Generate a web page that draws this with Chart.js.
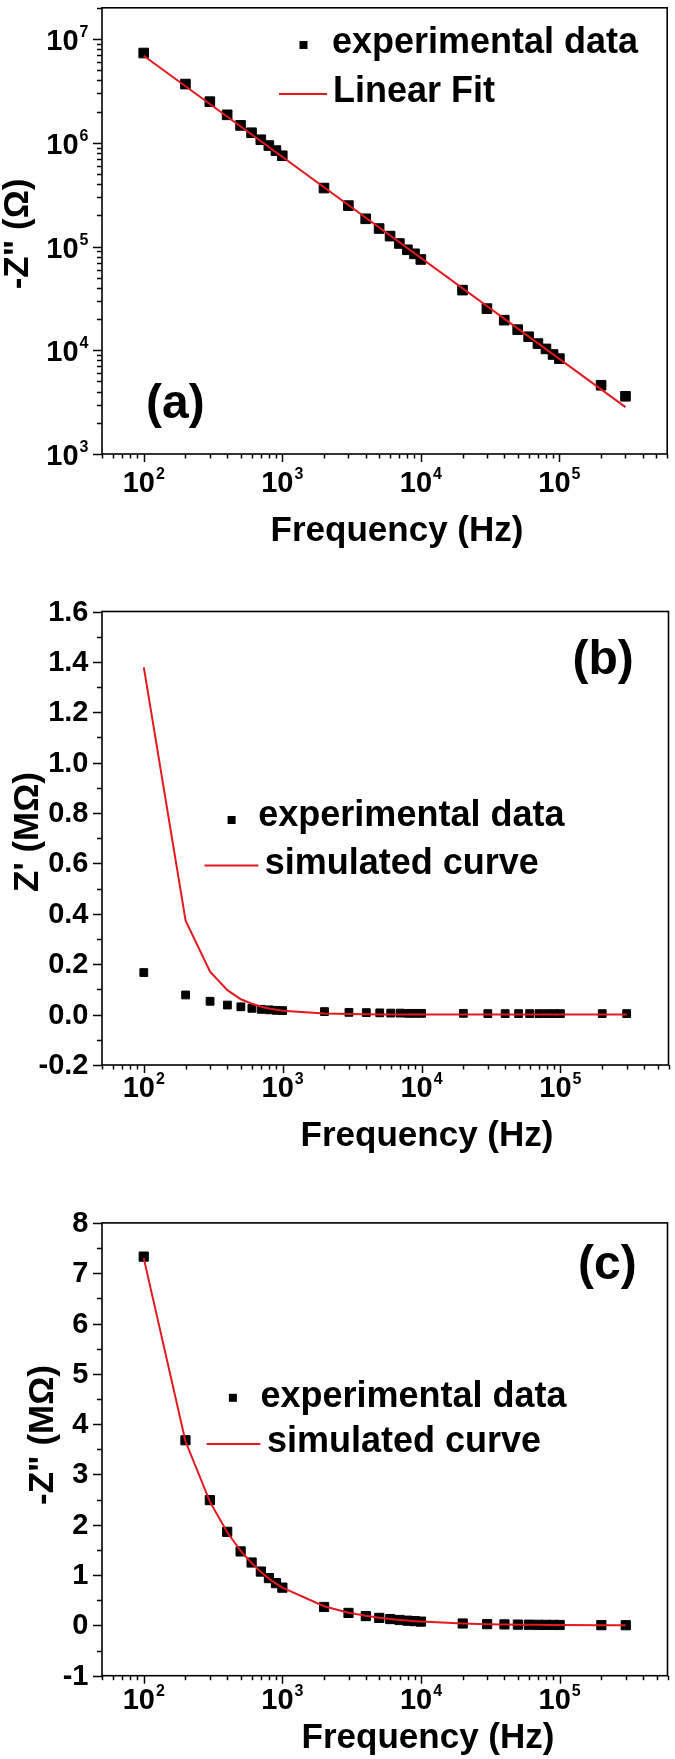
<!DOCTYPE html>
<html><head><meta charset="utf-8">
<script src="https://cdn.jsdelivr.net/npm/chart.js@4.4.0/dist/chart.umd.min.js"></script>
<style>
html,body{margin:0;padding:0;background:#fff;}
body{width:675px;height:1759px;position:relative;overflow:hidden;}
canvas{position:absolute;left:0;}
</style></head><body>
<canvas id="ca" width="675" height="560" style="top:0px"></canvas>
<canvas id="cb" width="675" height="600" style="top:560px"></canvas>
<canvas id="cc" width="675" height="599" style="top:1160px"></canvas>
<script>
// ---------------- data ----------------
const freq = [100,200,300,400,500,600,700,800,900,1000,2000,3000,4000,5000,6000,7000,8000,9000,10000,20000,30000,40000,50000,60000,70000,80000,90000,100000,200000,300000];
// (a) -Z'' in ohm, log-log
const zImagOhm = [7.33e6,3.68e6,2.49e6,1.86e6,1.47e6,1.25e6,1.07e6,9.4e5,8.4e5,7.5e5,3.66e5,2.48e5,1.85e5,1.49e5,1.26e5,1.07e5,9.3e4,8.5e4,7.5e4,3.8e4,2.52e4,1.95e4,1.58e4,1.35e4,1.16e4,1.03e4,9.1e3,8.3e3,4.6e3,3.6e3];
const fitFreq = [100, 300000];
const fitOhm = [6.9e6, 2.83e3];
// (b) Z' in Mohm
const zRealMOhm = [0.167,0.078,0.053,0.038,0.031,0.025,0.021,0.019,0.017,0.016,0.012,0.009,0.008,0.007,0.006,0.006,0.005,0.005,0.005,0.005,0.004,0.004,0.004,0.004,0.004,0.004,0.004,0.004,0.004,0.004];
const simRealMOhm = [1.378,0.373,0.170,0.097,0.061,0.043,0.031,0.024,0.019,0.015,0.004,0.002,0.001,0.0006,0.0004,0.0003,0.0002,0.0002,0.0001,0,0,0,0,0,0,0,0,0,0,0];
// (c) -Z'' in Mohm
const zImagMOhm = [7.33,3.68,2.49,1.86,1.47,1.25,1.07,0.94,0.84,0.75,0.366,0.248,0.185,0.149,0.126,0.107,0.093,0.085,0.075,0.038,0.025,0.0195,0.0158,0.0135,0.0116,0.0103,0.0091,0.0083,0.0046,0.0036];
const simImagMOhm = [7.30,3.66,2.46,1.85,1.48,1.24,1.06,0.93,0.83,0.75,0.38,0.25,0.19,0.15,0.125,0.108,0.095,0.084,0.076,0.038,0.025,0.019,0.015,0.013,0.011,0.0095,0.0085,0.0076,0.0038,0.0025];
// ticks
const xMajorTicks = [100, 1000, 10000, 100000];
const yMajorTicksA = [1e3, 1e4, 1e5, 1e6, 1e7];
const yTicksB = [-0.2, 0, 0.2, 0.4, 0.6, 0.8, 1.0, 1.2, 1.4, 1.6];
const yTickLabelsB = ['-0.2','0.0','0.2','0.4','0.6','0.8','1.0','1.2','1.4','1.6'];
const yTicksC = [-1, 0, 1, 2, 3, 4, 5, 6, 7, 8];
const yTickLabelsC = ['-1','0','1','2','3','4','5','6','7','8'];
// text
const xTitle = 'Frequency (Hz)';
const yTitleA = '-Z" (\u03A9)';
const yTitleB = "Z' (M\u03A9)";
const yTitleC = '-Z" (M\u03A9)';
const legendExp = 'experimental data';
const legendFit = 'Linear Fit';
const legendSim = 'simulated curve';

// ---------------- helpers ----------------
const FF = '"Liberation Sans", Arial, Helvetica, sans-serif';
const RED = '#e3191f';
const f = (s) => 'bold ' + s + 'px ' + FF;

function logMinors(min, max) {
  const out = [];
  for (let e = -1; e <= 8; e++) for (let m = 1; m <= 9; m++) {
    const v = m * Math.pow(10, e);
    if (v >= min * 0.9999 && v <= max * 1.0001) out.push({v, major: m === 1});
  }
  return out;
}
function line(ctx, x1, y1, x2, y2) { ctx.beginPath(); ctx.moveTo(x1, y1); ctx.lineTo(x2, y2); ctx.stroke(); }
function drawPow(ctx, exp, x, baseY, align, mainSize, supSize, raise) {
  ctx.font = f(mainSize); const w1 = ctx.measureText('10').width;
  ctx.font = f(supSize); const w2 = ctx.measureText(String(exp)).width;
  const total = w1 + w2 + 1;
  const left = align === 'center' ? x - total / 2 : x - total;
  ctx.textAlign = 'left'; ctx.textBaseline = 'alphabetic';
  ctx.font = f(mainSize); ctx.fillText('10', left, baseY);
  ctx.font = f(supSize); ctx.fillText(String(exp), left + w1 + 1, baseY - raise);
}

function decor(o) {
  return {
    id: 'decor',
    afterDraw(chart) {
      const {ctx, chartArea: a, scales: {x, y}} = chart;
      ctx.save();
      ctx.fillStyle = '#000'; ctx.strokeStyle = '#000'; ctx.lineWidth = 1.5;
      // x ticks (log)
      logMinors(x.min, x.max).forEach(t => {
        const px = Math.round(x.getPixelForValue(t.v)) + 0.5;
        line(ctx, px, a.bottom, px, a.bottom + (t.major ? 8 : 4.5));
      });
      xMajorTicks.forEach(v => {
        drawPow(ctx, Math.round(Math.log10(v)), x.getPixelForValue(v), o.xLabBase, 'center', 29, 16, 13);
      });
      // y ticks
      if (o.yLog) {
        logMinors(y.min, y.max).forEach(t => {
          const py = Math.round(y.getPixelForValue(t.v)) + 0.5;
          line(ctx, a.left - (t.major ? 9 : 5), py, a.left, py);
        });
        o.yMajor.forEach(v => {
          drawPow(ctx, Math.round(Math.log10(v)), 88.5, y.getPixelForValue(v) + 11, 'right', 29, 16, 13);
        });
      } else {
        o.yMajor.forEach((v, i) => {
          const py = Math.round(y.getPixelForValue(v)) + 0.5;
          line(ctx, a.left - 9, py, a.left, py);
          if (i < o.yMajor.length - 1) {
            const pm = Math.round(y.getPixelForValue((v + o.yMajor[i + 1]) / 2)) + 0.5;
            line(ctx, a.left - 5, pm, a.left, pm);
          }
          ctx.font = f(29); ctx.textAlign = 'right'; ctx.textBaseline = 'middle';
          ctx.fillText(o.yLabels[i], 88.5, y.getPixelForValue(v) + 1);
        });
      }
      // frame
      ctx.lineWidth = 1.6;
      ctx.strokeRect(a.left, a.top, a.right - a.left, a.bottom - a.top);
      // axis titles
      ctx.font = f(35); ctx.textAlign = 'center'; ctx.textBaseline = 'alphabetic';
      ctx.fillText(xTitle, o.xTitleX, o.xTitleBase);
      ctx.save();
      ctx.translate(o.yTitleBase, o.yTitleY); ctx.rotate(-Math.PI / 2);
      ctx.fillText(o.yTitle, 0, 0);
      ctx.restore();
      // legend
      ctx.fillRect(o.leg.mx - 4, o.leg.my - 4, 8, 8);
      ctx.font = f(36); ctx.textAlign = 'left';
      ctx.fillText(legendExp, o.leg.t1x, o.leg.t1y);
      ctx.strokeStyle = RED; ctx.lineWidth = 2;
      line(ctx, o.leg.l1, o.leg.ly, o.leg.l2, o.leg.ly);
      ctx.fillText(o.leg.label2, o.leg.t2x, o.leg.t2y);
      // panel label
      ctx.font = f(48);
      ctx.fillText(o.panel, o.px, o.py);
      ctx.restore();
    }
  };
}

function makeChart(id, datasets, xs, ys, pad, o) {
  return new Chart(document.getElementById(id), {
    type: 'scatter',
    data: {datasets},
    options: {
      responsive: false, animation: false, devicePixelRatio: 1,
      layout: {padding: pad},
      plugins: {legend: {display: false}, tooltip: {enabled: false}},
      scales: {x: Object.assign({display: false}, xs), y: Object.assign({display: false}, ys)}
    },
    plugins: [decor(o)]
  });
}
const pts = (xs, ys) => xs.map((v, i) => ({x: v, y: ys[i]}));
const lineDs = (data) => ({data, showLine: true, borderColor: RED, borderWidth: 2, pointRadius: 0, fill: false, order: 0});
const markDs = (data, r) => ({data, showLine: false, pointStyle: 'rect', pointRadius: r, backgroundColor: '#000', borderColor: '#000', borderWidth: 1, order: 1});
const xScale = {type: 'logarithmic', min: 50, max: 600000};

makeChart('ca', [lineDs(pts(fitFreq, fitOhm)), markDs(pts(freq, zImagOhm), 6.8)], xScale,
  {type: 'logarithmic', min: 1000, max: 2e7}, {left: 102, top: 1, right: 1, bottom: 106},
  {yLog: true, yMajor: yMajorTicksA, xLabBase: 492, xTitleX: 397, xTitleBase: 541,
   yTitle: yTitleA, yTitleBase: 28, yTitleY: 234,
   leg: {mx: 303.5, my: 45, t1x: 332, t1y: 53, l1: 279, l2: 327, ly: 94, label2: legendFit, t2x: 333, t2y: 101.5},
   panel: '(a)', px: 146, py: 418});

makeChart('cb', [lineDs(pts(freq, simRealMOhm)), markDs(pts(freq, zRealMOhm), 5.5)], xScale,
  {type: 'linear', min: -0.2, max: 1.6}, {left: 102, top: 51.5, right: 1, bottom: 95},
  {yLog: false, yMajor: yTicksB, yLabels: yTickLabelsB, xLabBase: 536.5, xTitleX: 427, xTitleBase: 586,
   yTitle: yTitleB, yTitleBase: 38, yTitleY: 272,
   leg: {mx: 231.6, my: 260, t1x: 258.3, t1y: 266.4, l1: 204.5, l2: 258.3, ly: 305.6, label2: legendSim, t2x: 264.7, t2y: 313.7},
   panel: '(b)', px: 572.5, py: 114});

makeChart('cc', [lineDs(pts(freq, simImagMOhm)), markDs(pts(freq, zImagMOhm), 6.5)], xScale,
  {type: 'linear', min: -1, max: 8}, {left: 102, top: 62.9, right: 1, bottom: 83.3},
  {yLog: false, yMajor: yTicksC, yLabels: yTickLabelsC, xLabBase: 548.5, xTitleX: 428, xTitleBase: 588,
   yTitle: yTitleC, yTitleBase: 53, yTitleY: 275,
   leg: {mx: 232.9, my: 237.8, t1x: 260.4, t1y: 246.5, l1: 206.6, l2: 260.4, ly: 284, label2: legendSim, t2x: 266.9, t2y: 291.9},
   panel: '(c)', px: 578, py: 119});
</script></body></html>
